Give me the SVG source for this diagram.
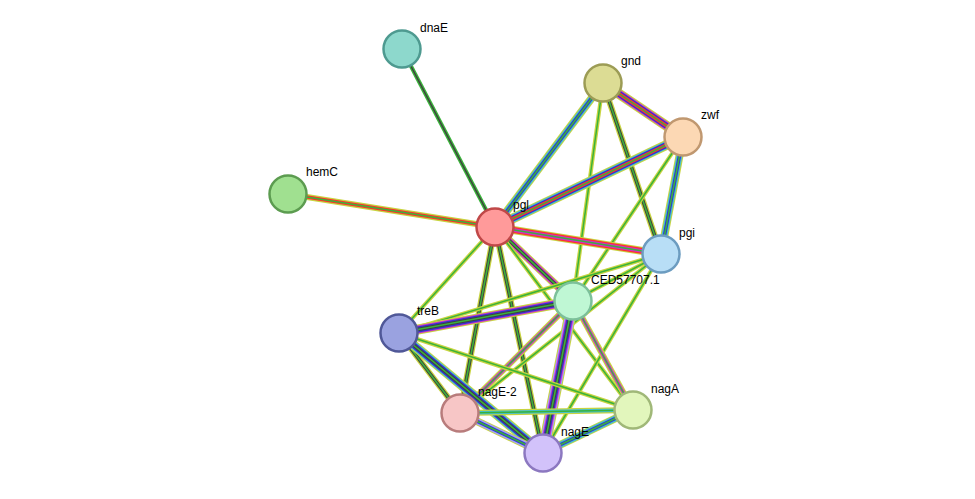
<svg xmlns="http://www.w3.org/2000/svg" width="975" height="499" viewBox="0 0 975 499">
<style>
.n{stroke-width:2.5}
text{font-family:"Liberation Sans",Arial,sans-serif;font-size:12px;fill:#000}
line{stroke-linecap:butt}
.g{stroke:#3ab33a}.y{stroke:#c8d440}.k{stroke:#404040}.r{stroke:#ff3030}.b{stroke:#3333cc}.c{stroke:#44c0d0}.m{stroke:#cc33cc}.p{stroke:#a0a0ff}
</style>
<rect width="975" height="499" fill="#fff"/>
<g id="connectors">
<g><line x1="402" y1="49" x2="495" y2="227" class="g" stroke-width="4"/><line x1="402" y1="49" x2="495" y2="227" class="k" stroke-width="1.5"/></g>
<g><line x1="288" y1="194" x2="495" y2="227" class="y" stroke-width="6"/><line x1="288" y1="194" x2="495" y2="227" class="r" stroke-width="3.5"/><line x1="288" y1="194" x2="495" y2="227" class="g" stroke-width="1.5"/></g>
<g><line x1="603" y1="83" x2="495" y2="227" class="y" stroke-width="8"/><line x1="603" y1="83" x2="495" y2="227" class="c" stroke-width="6"/><line x1="603" y1="83" x2="495" y2="227" class="b" stroke-width="3.5"/><line x1="603" y1="83" x2="495" y2="227" class="g" stroke-width="1.5"/></g>
<g><line x1="603" y1="83" x2="683" y2="137" class="y" stroke-width="10"/><line x1="603" y1="83" x2="683" y2="137" class="m" stroke-width="8"/><line x1="603" y1="83" x2="683" y2="137" class="b" stroke-width="6"/><line x1="603" y1="83" x2="683" y2="137" class="r" stroke-width="3.5"/><line x1="603" y1="83" x2="683" y2="137" class="g" stroke-width="1.5"/></g>
<g><line x1="603" y1="83" x2="661" y2="254" class="y" stroke-width="6"/><line x1="603" y1="83" x2="661" y2="254" class="k" stroke-width="3.5"/><line x1="603" y1="83" x2="661" y2="254" class="g" stroke-width="1.5"/></g>
<g><line x1="603" y1="83" x2="573" y2="301" class="y" stroke-width="4"/><line x1="603" y1="83" x2="573" y2="301" class="g" stroke-width="1.5"/></g>
<g><line x1="683" y1="137" x2="495" y2="227" class="y" stroke-width="10"/><line x1="683" y1="137" x2="495" y2="227" class="c" stroke-width="8"/><line x1="683" y1="137" x2="495" y2="227" class="b" stroke-width="6"/><line x1="683" y1="137" x2="495" y2="227" class="r" stroke-width="3.5"/><line x1="683" y1="137" x2="495" y2="227" class="g" stroke-width="1.5"/></g>
<g><line x1="683" y1="137" x2="661" y2="254" class="y" stroke-width="8"/><line x1="683" y1="137" x2="661" y2="254" class="c" stroke-width="6"/><line x1="683" y1="137" x2="661" y2="254" class="b" stroke-width="3.5"/><line x1="683" y1="137" x2="661" y2="254" class="g" stroke-width="1.5"/></g>
<g><line x1="683" y1="137" x2="573" y2="301" class="y" stroke-width="4"/><line x1="683" y1="137" x2="573" y2="301" class="g" stroke-width="1.5"/></g>
<g><line x1="495" y1="227" x2="661" y2="254" class="y" stroke-width="8"/><line x1="495" y1="227" x2="661" y2="254" class="r" stroke-width="6"/><line x1="495" y1="227" x2="661" y2="254" class="m" stroke-width="3.5"/><line x1="495" y1="227" x2="661" y2="254" class="g" stroke-width="1.5"/></g>
<g><line x1="495" y1="227" x2="573" y2="301" class="y" stroke-width="8"/><line x1="495" y1="227" x2="573" y2="301" class="m" stroke-width="6"/><line x1="495" y1="227" x2="573" y2="301" class="k" stroke-width="3.5"/><line x1="495" y1="227" x2="573" y2="301" class="g" stroke-width="1.5"/></g>
<g><line x1="495" y1="227" x2="399" y2="333" class="y" stroke-width="4"/><line x1="495" y1="227" x2="399" y2="333" class="g" stroke-width="1.5"/></g>
<g><line x1="495" y1="227" x2="460" y2="413" class="y" stroke-width="6"/><line x1="495" y1="227" x2="460" y2="413" class="k" stroke-width="3.5"/><line x1="495" y1="227" x2="460" y2="413" class="g" stroke-width="1.5"/></g>
<g><line x1="495" y1="227" x2="543" y2="453" class="y" stroke-width="6"/><line x1="495" y1="227" x2="543" y2="453" class="k" stroke-width="3.5"/><line x1="495" y1="227" x2="543" y2="453" class="g" stroke-width="1.5"/></g>
<g><line x1="495" y1="227" x2="633" y2="410" class="y" stroke-width="4"/><line x1="495" y1="227" x2="633" y2="410" class="g" stroke-width="1.5"/></g>
<g><line x1="661" y1="254" x2="573" y2="301" class="y" stroke-width="4"/><line x1="661" y1="254" x2="573" y2="301" class="g" stroke-width="1.5"/></g>
<g><line x1="661" y1="254" x2="399" y2="333" class="y" stroke-width="4"/><line x1="661" y1="254" x2="399" y2="333" class="g" stroke-width="1.5"/></g>
<g><line x1="661" y1="254" x2="543" y2="453" class="y" stroke-width="4"/><line x1="661" y1="254" x2="543" y2="453" class="g" stroke-width="1.5"/></g>
<g><line x1="661" y1="254" x2="460" y2="413" class="y" stroke-width="4"/><line x1="661" y1="254" x2="460" y2="413" class="g" stroke-width="1.5"/></g>
<g><line x1="573" y1="301" x2="399" y2="333" class="y" stroke-width="10"/><line x1="573" y1="301" x2="399" y2="333" class="m" stroke-width="8"/><line x1="573" y1="301" x2="399" y2="333" class="b" stroke-width="6"/><line x1="573" y1="301" x2="399" y2="333" class="k" stroke-width="3.5"/><line x1="573" y1="301" x2="399" y2="333" class="g" stroke-width="1.5"/></g>
<g><line x1="573" y1="301" x2="460" y2="413" class="y" stroke-width="6"/><line x1="573" y1="301" x2="460" y2="413" class="m" stroke-width="3.5"/><line x1="573" y1="301" x2="460" y2="413" class="g" stroke-width="1.5"/></g>
<g><line x1="573" y1="301" x2="543" y2="453" class="y" stroke-width="12"/><line x1="573" y1="301" x2="543" y2="453" class="p" stroke-width="10"/><line x1="573" y1="301" x2="543" y2="453" class="m" stroke-width="8"/><line x1="573" y1="301" x2="543" y2="453" class="b" stroke-width="6"/><line x1="573" y1="301" x2="543" y2="453" class="k" stroke-width="3.5"/><line x1="573" y1="301" x2="543" y2="453" class="g" stroke-width="1.5"/></g>
<g><line x1="573" y1="301" x2="633" y2="410" class="y" stroke-width="6"/><line x1="573" y1="301" x2="633" y2="410" class="m" stroke-width="3.5"/><line x1="573" y1="301" x2="633" y2="410" class="g" stroke-width="1.5"/></g>
<g><line x1="399" y1="333" x2="460" y2="413" class="y" stroke-width="6"/><line x1="399" y1="333" x2="460" y2="413" class="k" stroke-width="3.5"/><line x1="399" y1="333" x2="460" y2="413" class="g" stroke-width="1.5"/></g>
<g><line x1="399" y1="333" x2="543" y2="453" class="y" stroke-width="10"/><line x1="399" y1="333" x2="543" y2="453" class="c" stroke-width="8"/><line x1="399" y1="333" x2="543" y2="453" class="b" stroke-width="6"/><line x1="399" y1="333" x2="543" y2="453" class="k" stroke-width="3.5"/><line x1="399" y1="333" x2="543" y2="453" class="g" stroke-width="1.5"/></g>
<g><line x1="399" y1="333" x2="633" y2="410" class="y" stroke-width="4"/><line x1="399" y1="333" x2="633" y2="410" class="g" stroke-width="1.5"/></g>
<g><line x1="460" y1="413" x2="543" y2="453" class="y" stroke-width="8"/><line x1="460" y1="413" x2="543" y2="453" class="p" stroke-width="6"/><line x1="460" y1="413" x2="543" y2="453" class="b" stroke-width="3.5"/><line x1="460" y1="413" x2="543" y2="453" class="g" stroke-width="1.5"/></g>
<g><line x1="460" y1="413" x2="633" y2="410" class="y" stroke-width="6"/><line x1="460" y1="413" x2="633" y2="410" class="c" stroke-width="3.5"/><line x1="460" y1="413" x2="633" y2="410" class="g" stroke-width="1.5"/></g>
<g><line x1="543" y1="453" x2="633" y2="410" class="y" stroke-width="8"/><line x1="543" y1="453" x2="633" y2="410" class="c" stroke-width="6"/><line x1="543" y1="453" x2="633" y2="410" class="b" stroke-width="3.5"/><line x1="543" y1="453" x2="633" y2="410" class="g" stroke-width="1.5"/></g>
</g>
<g id="dnaE"><circle cx="402" cy="49" r="18.5" fill="#8dd8cc" stroke="#4e9a90" class="n"/><text x="420" y="32">dnaE</text></g>
<g id="gnd"><circle cx="603" cy="83" r="18.5" fill="#dcdc94" stroke="#9c9c55" class="n"/><text x="621" y="65">gnd</text></g>
<g id="zwf"><circle cx="683" cy="137" r="18.5" fill="#fcd8b4" stroke="#c09870" class="n"/><text x="701" y="119">zwf</text></g>
<g id="hemC"><circle cx="288" cy="194" r="18.5" fill="#a0e090" stroke="#5c9c50" class="n"/><text x="306" y="176">hemC</text></g>
<g id="pgl"><circle cx="495" cy="227" r="18.5" fill="#ff9a9a" stroke="#c04848" class="n"/><text x="513" y="209">pgl</text></g>
<g id="pgi"><circle cx="661" cy="254" r="18.5" fill="#b8def6" stroke="#6c9cc0" class="n"/><text x="679" y="237">pgi</text></g>
<g id="CED57707.1"><circle cx="573" cy="301" r="18.5" fill="#bff7d4" stroke="#7cc09a" class="n"/><text x="591" y="284">CED57707.1</text></g>
<g id="treB"><circle cx="399" cy="333" r="18.5" fill="#9aa2e0" stroke="#505898" class="n"/><text x="417" y="315">treB</text></g>
<g id="nagE-2"><circle cx="460" cy="413" r="18.5" fill="#f7c6c6" stroke="#b87c7c" class="n"/><text x="478" y="396">nagE-2</text></g>
<g id="nagA"><circle cx="633" cy="410" r="18.5" fill="#e2f6bc" stroke="#a0b878" class="n"/><text x="651" y="393">nagA</text></g>
<g id="nagE"><circle cx="543" cy="453" r="18.5" fill="#d2c2fa" stroke="#8c78c0" class="n"/><text x="561" y="436">nagE</text></g>
</svg>
